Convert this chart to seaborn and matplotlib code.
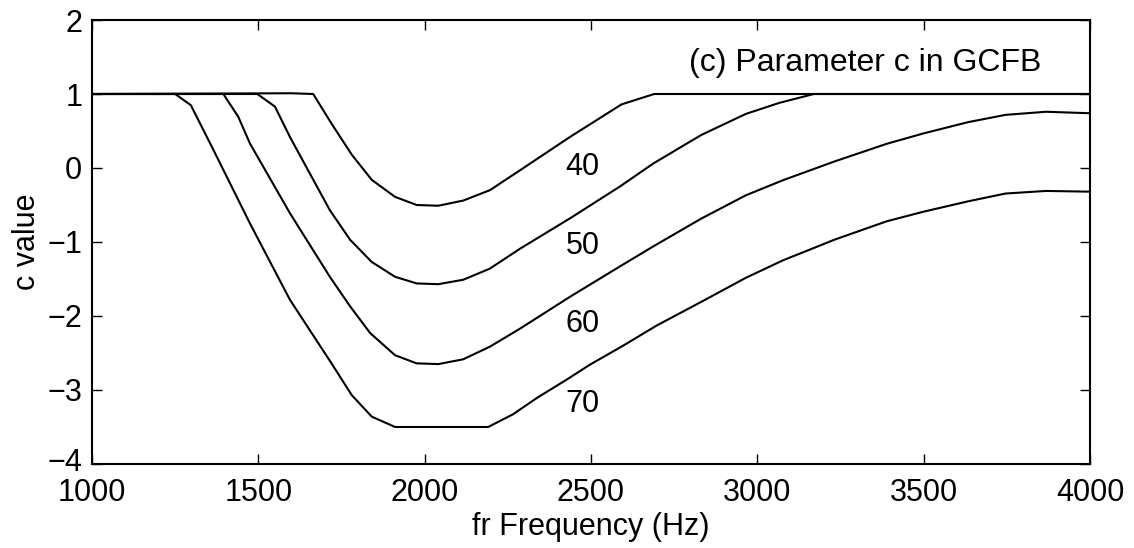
import numpy as np
import pandas as pd
import matplotlib
matplotlib.use("Agg")
import matplotlib.pyplot as plt
import matplotlib.transforms as mtransforms
import seaborn as sns

# ---- data ----
levels = ["40", "50", "60", "70"]

hz_40 = [1000, 1600, 1665, 1720, 1781, 1841, 1911, 1976, 2041, 2116, 2196, 2287, 2437, 2592, 2690, 4000]
c_40 = [1.0, 1.01, 1.0, 0.60, 0.18, -0.16, -0.39, -0.50, -0.51, -0.44, -0.30, -0.03, 0.42, 0.86, 1.0, 1.0]

hz_50 = [1000, 1497, 1550, 1595, 1715, 1776, 1841, 1911, 1976, 2041, 2116, 2196, 2287, 2437, 2587,
         2687, 2831, 2965, 3066, 3170, 4000]
c_50 = [1.0, 1.0, 0.83, 0.42, -0.57, -0.97, -1.27, -1.47, -1.56, -1.57, -1.51, -1.36, -1.09, -0.68, -0.25,
        0.06, 0.445, 0.73, 0.88, 1.0, 1.0]

hz_60 = [1000, 1395, 1440, 1475, 1595, 1715, 1776, 1836, 1911, 1976, 2041, 2116, 2196, 2287, 2437, 2587,
         2687, 2831, 2965, 3076, 3233, 3389, 3500, 3634, 3746, 3868, 4000]
c_60 = [1.0, 1.0, 0.69, 0.33, -0.61, -1.47, -1.87, -2.23, -2.53, -2.64, -2.65, -2.585, -2.415, -2.17, -1.74, -1.33,
        -1.06, -0.685, -0.37, -0.167, 0.09, 0.327, 0.468, 0.62, 0.718, 0.76, 0.74]

hz_70 = [1000, 1250, 1297, 1360, 1475, 1595, 1720, 1781, 1841, 1911, 2191, 2265, 2340, 2427, 2496, 2597,
         2697, 2831, 2965, 3076, 3233, 3389, 3500, 3634, 3746, 3868, 4000]
c_70 = [1.0, 1.0, 0.85, 0.29, -0.75, -1.78, -2.64, -3.07, -3.36, -3.50, -3.50, -3.33, -3.10, -2.86, -2.66, -2.40,
        -2.13, -1.81, -1.485, -1.25, -0.967, -0.72, -0.59, -0.45, -0.345, -0.31, -0.32]

label_x = [2475, 2475, 2475, 2475]
label_y = [0.02, -1.05, -2.11, -3.19]

x_ticks = [1000, 1500, 2000, 2500, 3000, 3500, 4000]
y_ticks = [-4, -3, -2, -1, 0, 1, 2]

title_text = "(c) Parameter c in GCFB"
x_label = "fr Frequency (Hz)"
y_label = "c value"

# ---- build long table ----
frames = []
for lev, hz, c in zip(levels, [hz_40, hz_50, hz_60, hz_70], [c_40, c_50, c_60, c_70]):
    frames.append(pd.DataFrame({"hz": hz, "c": c, "level": lev}))
df = pd.concat(frames, ignore_index=True)

sns.set_theme(style="ticks")
plt.rcParams["font.family"] = ["Liberation Sans", "DejaVu Sans"]
plt.rcParams["axes.unicode_minus"] = True

fig = plt.figure(figsize=(11.34, 5.48), dpi=100)
ax = fig.add_axes([0.0811, 0.1533, 0.9612 - 0.0811, 0.9635 - 0.1533])

for lev in levels:
    sub = df[df["level"] == lev]
    sns.lineplot(data=sub, x="hz", y="c", ax=ax, color="black", linewidth=1.5,
                 estimator=None, sort=False, legend=False)

ax.set_xlim(1000, 4000)
ax.set_ylim(-4, 2)
ax.set_xticks(x_ticks)
ax.set_yticks(y_ticks)
ax.set_xticklabels([str(t) for t in x_ticks])
ax.set_yticklabels([f"{t}".replace("-", "\u2212") for t in y_ticks])

fs = 22
ax.tick_params(axis="both", which="major", direction="in", length=7, width=1.0,
               top=True, right=True, labelsize=fs, color="black", labelcolor="black")
ax.tick_params(axis="x", pad=10)
ax.tick_params(axis="y", pad=7)
for sp in ax.spines.values():
    sp.set_visible(True)
    sp.set_linewidth(1.5)
    sp.set_color("black")

# nudge the lowest y tick label up a little so it clears the first x tick label
lowest = ax.get_yticklabels()[0]
lowest.set_transform(lowest.get_transform() +
                     mtransforms.ScaledTranslation(0, 3 / 72, fig.dpi_scale_trans))

ax.set_xlabel(x_label, fontsize=fs, labelpad=3, color="black")
ax.set_ylabel(y_label, fontsize=fs, labelpad=4, color="black")

ax.text(3855, 1.42, title_text, ha="right", va="center", fontsize=23, color="black")
for lx, ly, lev in zip(label_x, label_y, levels):
    ax.text(lx, ly, lev, ha="center", va="center", fontsize=fs, color="black")

fig.savefig("out.png", dpi=100, facecolor="white")
